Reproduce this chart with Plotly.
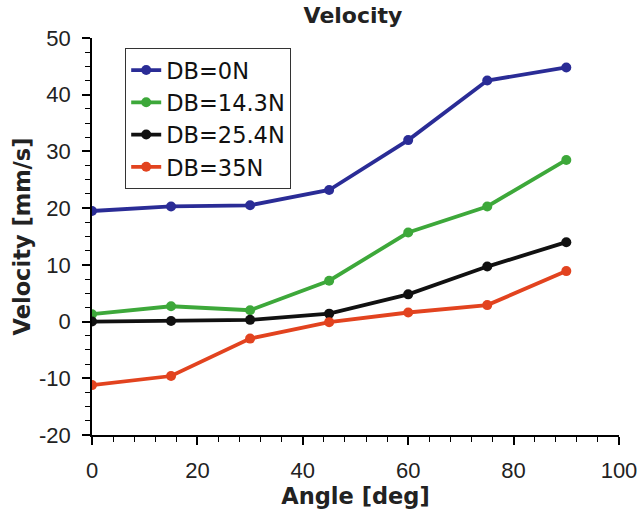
import plotly.graph_objects as go

# Measured velocity vs. angle for each brake force setting
angles = [0, 15, 30, 45, 60, 75, 90]
v_db0 = [19.5, 20.3, 20.5, 23.2, 32.0, 42.5, 44.8]
v_db14 = [1.3, 2.7, 2.0, 7.2, 15.7, 20.3, 28.5]
v_db25 = [0.0, 0.1, 0.3, 1.4, 4.8, 9.7, 14.0]
v_db35 = [-11.2, -9.6, -3.0, -0.1, 1.6, 2.9, 8.9]

series_names = ["DB=0N", "DB=14.3N", "DB=25.4N", "DB=35N"]
series_values = [v_db0, v_db14, v_db25, v_db35]
series_colors = ["#2a2c96", "#3da83a", "#111111", "#e2431f"]

x_ticks = [0, 20, 40, 60, 80, 100]
y_ticks = [-20, -10, 0, 10, 20, 30, 40, 50]

fig = go.Figure()
for name, vals, col in zip(series_names, series_values, series_colors):
    fig.add_trace(go.Scatter(
        x=angles, y=vals, name=name, mode="lines+markers",
        line=dict(color=col, width=3.8),
        marker=dict(color=col, size=10),
    ))

tick_font = dict(family="Liberation Sans, Arial, sans-serif", size=22, color="#222")
title_font = dict(family="DejaVu Sans, sans-serif", size=22.5, color="#222", weight="bold")

axis_common = dict(
    showline=True, linecolor="black", linewidth=1.5,
    showgrid=False, zeroline=False, automargin=False,
    ticks="outside", ticklen=8, tickwidth=1.5, tickcolor="black",
    tickfont=tick_font, ticklabelstandoff=7,
)

fig.update_xaxes(
    range=[0, 100], tickmode="array", tickvals=x_ticks,
    ticktext=[str(t) for t in x_ticks],
    minor=dict(dtick=4, tick0=0, ticks="outside", ticklen=5, tickcolor="black", tickwidth=1.2),
    title=dict(text="Angle [deg]", font=title_font, standoff=4),
    **axis_common,
)
fig.update_yaxes(
    range=[-20, 50], tickmode="array", tickvals=y_ticks,
    ticktext=[str(t) for t in y_ticks],
    minor=dict(dtick=2.5, tick0=0, ticks="outside", ticklen=5, tickcolor="black", tickwidth=1.2),
    title=dict(text="Velocity [mm/s]", font=title_font, standoff=2),
    **axis_common,
)

fig.update_layout(
    width=639, height=510,
    margin=dict(l=92, r=20, t=38, b=75, autoexpand=False),
    plot_bgcolor="white", paper_bgcolor="white",
    title=dict(text="Velocity", x=353 / 639, xanchor="center", y=0.985, yanchor="top",
               automargin=False,
               font=dict(family="DejaVu Sans, sans-serif", size=22, color="#222", weight="bold")),
    legend=dict(
        x=0.063, y=0.975, xanchor="left", yanchor="top",
        bgcolor="white", bordercolor="#333", borderwidth=1,
        font=dict(family="DejaVu Sans, sans-serif", size=22.5, color="#111"),
        itemwidth=30, tracegroupgap=0,
    ),
    showlegend=True,
)

fig.write_html("out.html")
